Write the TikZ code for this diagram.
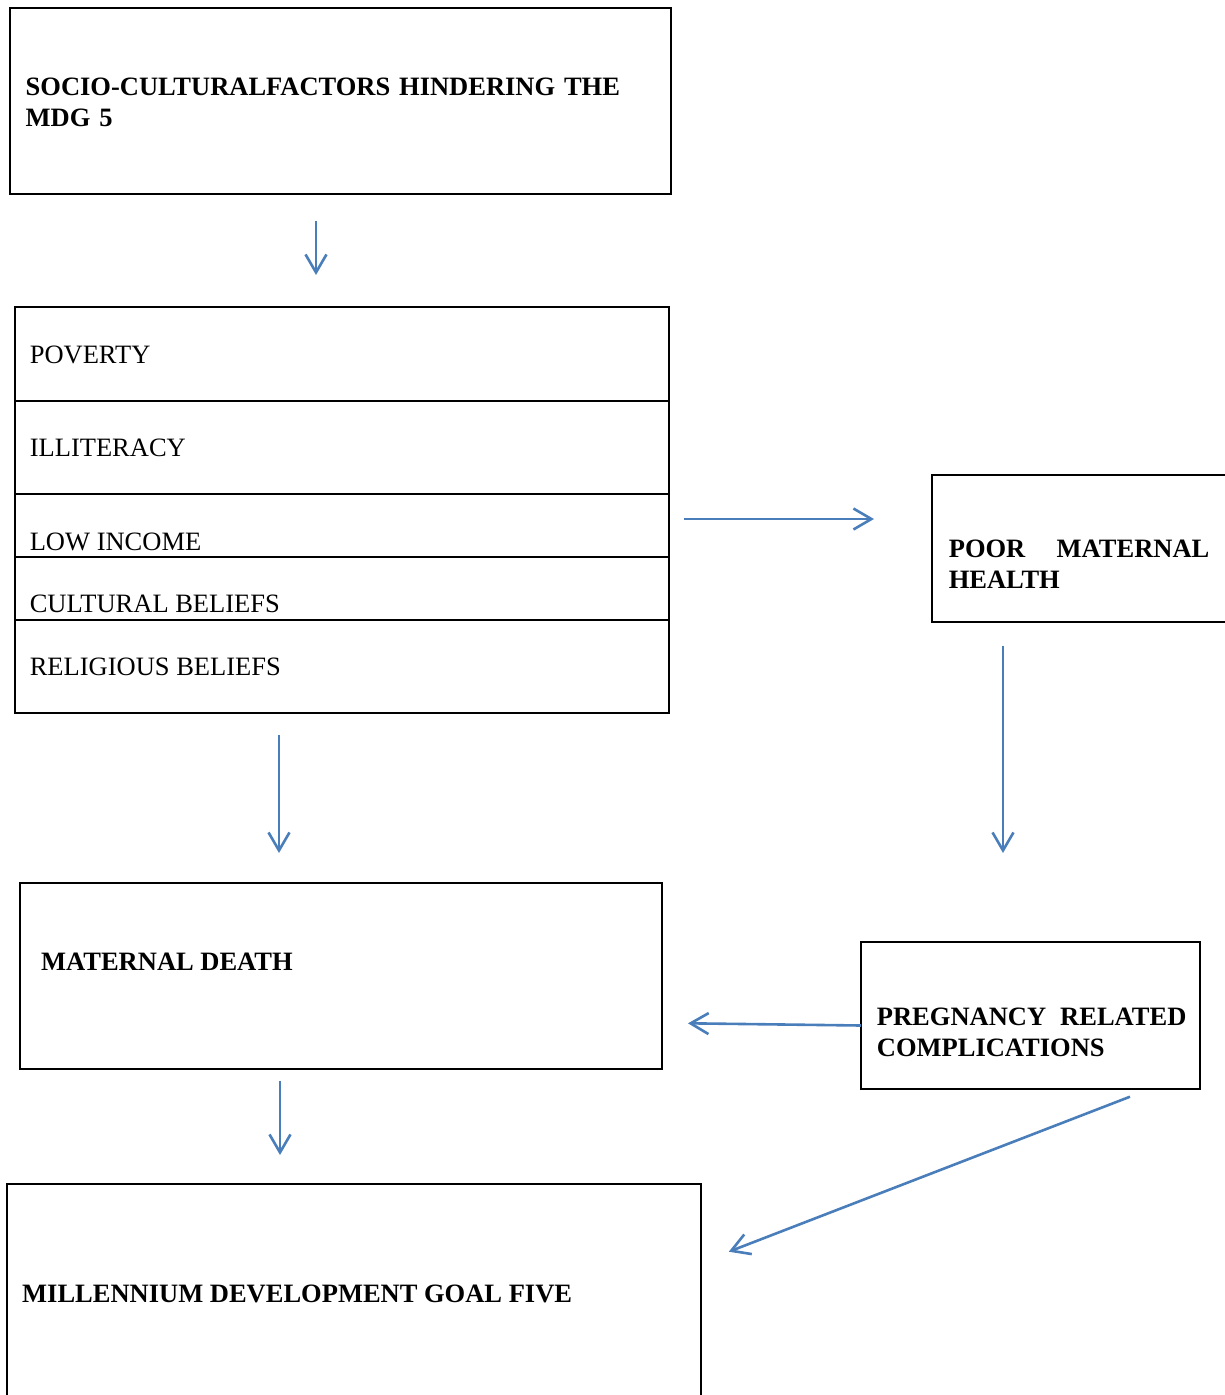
\documentclass[tikz,border=0pt]{standalone}
\usepackage{fontspec}
\setmainfont{Liberation Serif}
\usepackage{tikz}
\usetikzlibrary{arrows.meta,positioning}
\definecolor{flowblue}{RGB}{74,126,187}
\tikzset{
    box/.style={
            rectangle,
            draw,
            line width=2.2pt,
            inner sep=0pt,
            outer sep=0pt
        },
    cell/.style={
            box,
            minimum width=654pt
        },
    txt/.style={
            anchor=base west,
            inner sep=0pt,
            align=left,
            font=\fontsize{26.5}{31}\selectfont
        },
    headtxt/.style={
            txt,
            font=\fontsize{26.5}{31}\selectfont\bfseries
        },
    flow/.style={
            draw=flowblue,
            line width=2.6pt,
            -{Straight Barb[length=18pt,width=21pt]}
        }
}

\begin{document}
\begin{tikzpicture}[x=1pt,y=1pt]
  \useasboundingbox (0,0) rectangle (1225,-1395);
  % boxes
  \node[box, minimum width=661pt, minimum height=186pt] (socio) at (340.5,-101) {};
  \node[cell, minimum height=94pt] (poverty) at (342,-354) {};
  \node[cell, minimum height=93pt, below=0pt of poverty] (illiteracy) {};
  \node[cell, minimum height=63pt, below=0pt of illiteracy] (income) {};
  \node[cell, minimum height=63pt, below=0pt of income] (culture) {};
  \node[cell, minimum height=93pt, below=0pt of culture] (religion) {};
  \node[box, minimum width=303pt, minimum height=147pt] (poor) at (1083.5,-548.5) {};
  \node[box, minimum width=642pt, minimum height=186pt] (death) at (341,-976) {};
  \node[box, minimum width=339pt, minimum height=147pt] (preg) at (1030.5,-1015.5) {};
  \node[box, minimum width=694pt, minimum height=226pt] (mdg) at (354,-1297) {};
  % texts
  \node[headtxt, text width=620pt] (sociotxt) at (25.5,-95) {SOCIO-CULTURALFACTORS HINDERING THE\\MDG 5};
  \node[txt] (povertytxt) at (29.6,-363) {POVERTY};
  \node[txt] (illiteracytxt) at (29.6,-456) {ILLITERACY};
  \node[txt] (incometxt) at (29.6,-550) {LOW INCOME};
  \node[txt] (culturetxt) at (29.6,-612) {CULTURAL BELIEFS};
  \node[txt] (religiontxt) at (29.6,-675) {RELIGIOUS BELIEFS};
  \node[headtxt, text width=260.5pt] (poortxt) at (948.6,-557) {POOR\hfill MATERNAL\\HEALTH};
  \node[headtxt] (deathtxt) at (41,-970) {MATERNAL DEATH};
  \node[headtxt, text width=309.5pt] (pregtxt) at (876.7,-1025) {PREGNANCY\hfill RELATED\\COMPLICATIONS};
  \node[headtxt] (mdgtxt) at (22,-1302) {MILLENNIUM DEVELOPMENT GOAL FIVE};
  % connectors
  \draw[flow] ([shift={(-24.5pt,-27pt)}]socio.south) -- ([shift={(-26pt,32pt)}]poverty.north);
  \draw[flow] ([shift={(15pt,6.5pt)}]income.east) -- ([shift={(-58pt,29.5pt)}]poor.west);
  \draw[flow] ([shift={(-80.5pt,-23.5pt)}]poor.south) -- ([shift={(-27.5pt,89pt)}]preg.north);
  \draw[flow] ([shift={(-63pt,-22pt)}]religion.south) -- ([shift={(-62pt,30pt)}]death.north);
  \draw[flow] ([shift={(0pt,-10pt)}]preg.west) -- ([shift={(26pt,-47.3pt)}]death.east);
  \draw[flow] ([shift={(-61pt,-11.7pt)}]death.south) -- ([shift={(-74pt,29pt)}]mdg.north);
  \draw[flow] ([shift={(99.5pt,-7.7pt)}]preg.south) -- ([shift={(27.8pt,45.3pt)}]mdg.east);
\end{tikzpicture}
\end{document}
